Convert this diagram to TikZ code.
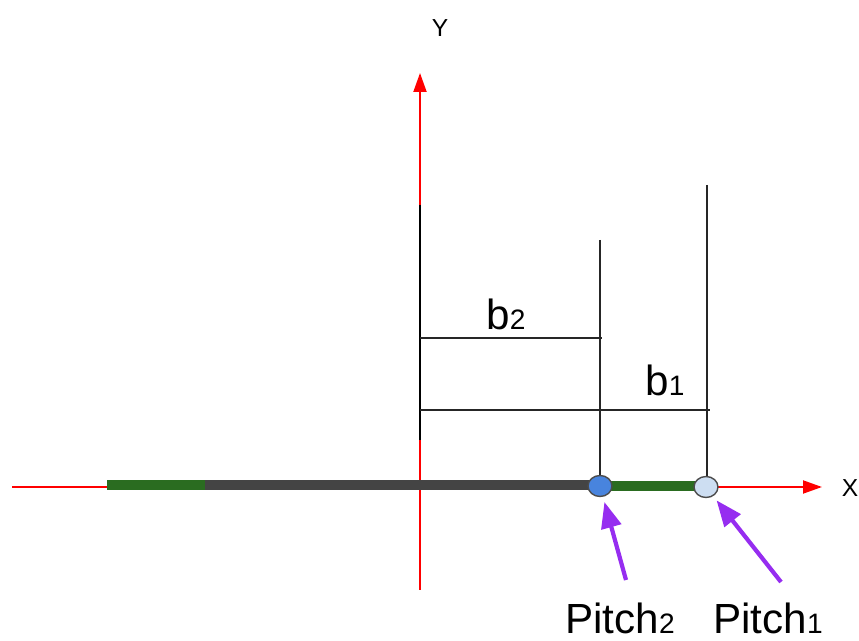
\documentclass[tikz,border=0pt]{standalone}
\usepackage{fontspec}
\setmainfont{Liberation Sans}
\usetikzlibrary{arrows.meta, positioning, shapes.geometric}

\definecolor{barGreen}{RGB}{42,108,32}
\definecolor{barGray}{RGB}{68,68,68}
\definecolor{pitchBlue}{RGB}{72,132,222}
\definecolor{pitchLight}{RGB}{205,222,242}
\definecolor{arrowPurple}{RGB}{150,45,240}

\begin{document}
\begin{tikzpicture}[x=0.02cm, y=-0.02cm,
    axisline/.style={red, line width=1.1pt, -{Triangle[length=0.38cm, width=0.26cm]}},
    thinline/.style={black!85, line width=0.6pt},
    bar/.style={line width=0.2cm},
    pitchdot/.style={ellipse, draw=black!70, line width=0.8pt, minimum width=0.48cm, minimum height=0.42cm, inner sep=0pt},
    pitcharrow/.style={arrowPurple, line width=2.4pt, -{Triangle[length=0.52cm, width=0.4cm]}, shorten >=3pt},
    biglabel/.style={font=\fontsize{24}{28}\selectfont, anchor=base, inner sep=0pt},
    axislabel/.style={font=\fontsize{14}{16}\selectfont}]
    \useasboundingbox (0,0) rectangle (859,641);

    % axes
    \draw[axisline] (12,487) -- (822,487) coordinate (xend);
    \draw[axisline] (420,590) -- (420,73) coordinate (yend);
    \node[axislabel] (xlab) at (850,488) {X};
    \node[axislabel] (ylab) at (440,28) {Y};
    \draw[black, line width=1.1pt] (420,205) -- (420,440);

    % bars along the x axis
    \draw[bar, barGreen] (107,485) -- (205,485);
    \draw[bar, barGray] (205,485) -- (600,485);
    \draw[bar, barGreen] (600,486) -- (706,486);

    % verticals and distances
    \coordinate (t2) at (600,240);
    \coordinate (t1) at (707,185);
    \draw[thinline] (t2) -- (600,487);
    \draw[thinline] (t1) -- (707,487);
    \draw[thinline] (420,338) -- (602,338);
    \draw[thinline] (420,410) -- (710,410);
    \node[biglabel] (b2) at (506,330) {b{\fontsize{16}{18}\selectfont 2}};
    \node[biglabel] (b1) at (665,396) {b{\fontsize{16}{18}\selectfont 1}};

    % pitch points
    \node[pitchdot, fill=pitchBlue] (p2) at (600,486) {};
    \node[pitchdot, fill=pitchLight] (p1) at (706,487) {};

    \coordinate (a2) at (626,580);
    \coordinate (a1) at (781,582);
    \draw[pitcharrow] (a2) -- (p2);
    \draw[pitcharrow] (a1) -- (p1);

    \node[biglabel] (pl2) at (620,634) {Pitch{\fontsize{16}{18}\selectfont 2}};
    \node[biglabel] (pl1) at (768,634) {Pitch{\fontsize{16}{18}\selectfont 1}};
\end{tikzpicture}
\end{document}
